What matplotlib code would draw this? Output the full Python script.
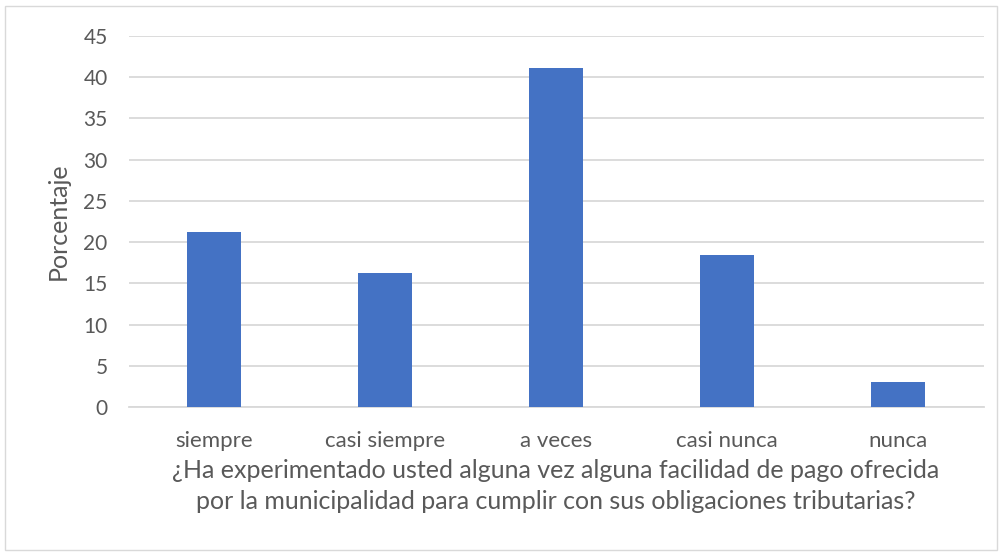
import matplotlib.pyplot as plt
from matplotlib.patches import Rectangle

categories = ['siempre', 'casi siempre', 'a veces', 'casi nunca', 'nunca']
values = [21.2, 16.2, 41.1, 18.4, 3.0]
yticks = [0, 5, 10, 15, 20, 25, 30, 35, 40, 45]

plt.rcParams['font.family'] = ['Lato', 'DejaVu Sans']
txt = '#595959'

fig = plt.figure(figsize=(10.01, 5.56), dpi=100)
ax = fig.add_axes([128.5 / 1001, 1 - 407 / 556, (983.5 - 128.5) / 1001, (407 - 36) / 556])

ax.bar(range(len(categories)), values, width=0.31, color='#4472C4', zorder=3)
ax.set_xlim(-0.5, len(categories) - 0.5)
ax.set_ylim(0, 45)
ax.set_yticks(yticks)
ax.set_xticks(range(len(categories)))
ax.set_xticklabels(categories, fontsize=16)
ax.grid(axis='y', color='#d9d9d9', linewidth=1.3, zorder=0)
for s in ['top', 'right', 'left']:
    ax.spines[s].set_visible(False)
ax.spines['bottom'].set_color('#d9d9d9')
ax.spines['bottom'].set_linewidth(1.3)
ax.tick_params(length=0, labelsize=15, colors=txt)
ax.tick_params(axis='x', labelsize=16, pad=17)
ax.tick_params(axis='y', pad=15)

ax.set_ylabel('Porcentaje', fontsize=18, color=txt, labelpad=10)
ax.set_xlabel('¿Ha experimentado usted alguna vez alguna facilidad de pago ofrecida\n'
              'por la municipalidad para cumplir con sus obligaciones tributarias?',
              fontsize=18, color=txt, labelpad=6, linespacing=1.45)

fig.patches.append(Rectangle((5 / 1001, 6 / 556), 992 / 1001, 544 / 556, transform=fig.transFigure,
                             fill=False, edgecolor='#d9d9d9', linewidth=1))

fig.savefig('out.png', dpi=100)
